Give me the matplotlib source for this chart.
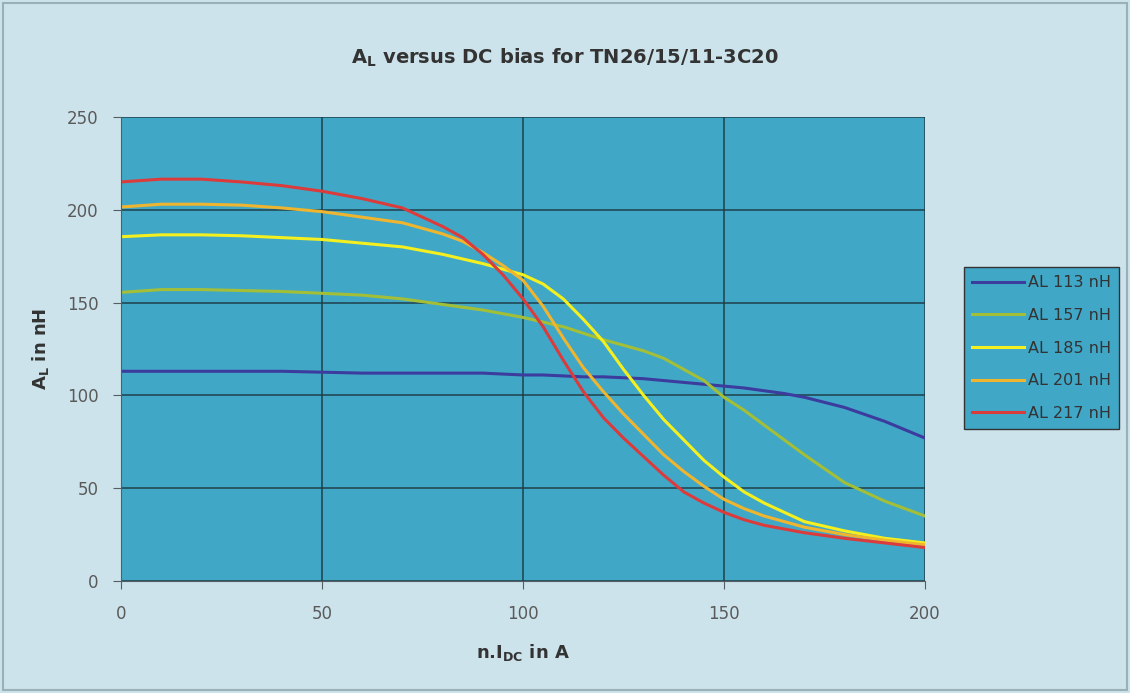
import matplotlib
matplotlib.use("Agg")
import matplotlib.pyplot as plt

plt.rcParams["font.family"] = "DejaVu Sans"
plt.rcParams["mathtext.fontset"] = "dejavusans"

# n.I_DC in A
x_vals = [0, 10, 20, 30, 40, 50, 60, 70, 80, 85, 90, 95, 100, 105, 110,
          115, 120, 125, 130, 135, 140, 145, 150, 155, 160, 165, 170,
          180, 190, 200]

# A_L in nH
al_113 = [113, 113, 113, 113, 113, 112.5, 112, 112, 112, 112, 112, 111.5,
          111, 111, 110.5, 110, 110, 109.5, 109, 108, 107, 106, 105, 104,
          102.5, 101, 99, 93.5, 86, 77]
al_157 = [155.5, 157, 157, 156.5, 156, 155, 154, 152, 149, 147.5, 146, 144,
          142, 139.5, 137, 133.5, 130, 127, 124, 120, 114, 108, 99, 92,
          84, 76, 68, 53, 43, 35]
al_185 = [185.5, 186.5, 186.5, 186, 185, 184, 182, 180, 176, 173.5, 171, 168,
          165, 160, 152, 141, 129, 114, 100, 87, 76, 65, 56, 48,
          42, 37, 32, 27, 23, 20.5]
al_201 = [201.5, 203, 203, 202.5, 201, 199, 196, 193, 187, 183, 177, 170,
          162, 148, 131, 115, 102, 90, 79, 68, 59, 51, 44, 39,
          35, 32, 29, 25, 22, 19.5]
al_217 = [215, 216.5, 216.5, 215, 213, 210, 206, 201, 191, 185, 176, 165,
          152, 137, 119, 102, 88, 77, 67, 57, 48, 42, 37, 33,
          30, 28, 26, 23, 20.5, 18]

series = [
    ("AL 113 nH", al_113, "#3b3c9e"),
    ("AL 157 nH", al_157, "#a3bf38"),
    ("AL 185 nH", al_185, "#f4ef1e"),
    ("AL 201 nH", al_201, "#efb52e"),
    ("AL 217 nH", al_217, "#dc3b3b"),
]

fig = plt.figure(figsize=(11.3, 6.93), dpi=100, facecolor="#cce3eb")
ax = fig.add_axes([0.1071, 0.1616, 0.7115, 0.6696])
ax.set_facecolor("#41a7c7")

for name, vals, col in series:
    ax.plot(x_vals, vals, color=col, lw=2.2, label=name)

ax.set_xlim(0, 200)
ax.set_ylim(0, 250)
ax.set_xticks([0, 50, 100, 150, 200])
ax.set_yticks([0, 50, 100, 150, 200, 250])
ax.grid(True, color="#1d3a44", lw=1.3, alpha=0.8)
ax.set_axisbelow(True)
for s in ["top", "right"]:
    ax.spines[s].set_visible(False)
for s in ["left", "bottom"]:
    ax.spines[s].set_color("#555f63")
ax.tick_params(direction="out", length=6, color="#555f63",
               labelsize=12, labelcolor="#5a5a5a")
ax.tick_params(axis="x", pad=11)
ax.tick_params(axis="y", pad=10)

# title is centred on the whole chart, not on the plot area
fig.text(0.5, 0.916, r"$\mathbf{A_L}$ versus DC bias for TN26/15/11-3C20",
         ha="center", va="center", fontsize=14, fontweight="bold",
         color="#333")
ax.set_ylabel(r"$\mathbf{A_L}$ in nH", fontsize=13, fontweight="bold",
              color="#333", labelpad=12)
ax.set_xlabel(r"n.$\mathbf{I_{DC}}$ in A", fontsize=13, fontweight="bold",
              color="#333", labelpad=14)

leg = ax.legend(loc="center left", bbox_to_anchor=(1.049, 0.502),
                fancybox=False, facecolor="#41a7c7", edgecolor="#333",
                framealpha=1, fontsize=11.5, handlelength=3.2,
                handletextpad=0.3, labelspacing=1.1, borderpad=0.5,
                borderaxespad=0)
for t in leg.get_texts():
    t.set_color("#333")

# thin frame around whole chart
fig.patches.append(plt.Rectangle((0.003, 0.004), 0.994, 0.992,
                                 transform=fig.transFigure, fill=False,
                                 edgecolor="#9ab0b8", lw=1.5))

fig.savefig("out.png", dpi=100, facecolor=fig.get_facecolor())
